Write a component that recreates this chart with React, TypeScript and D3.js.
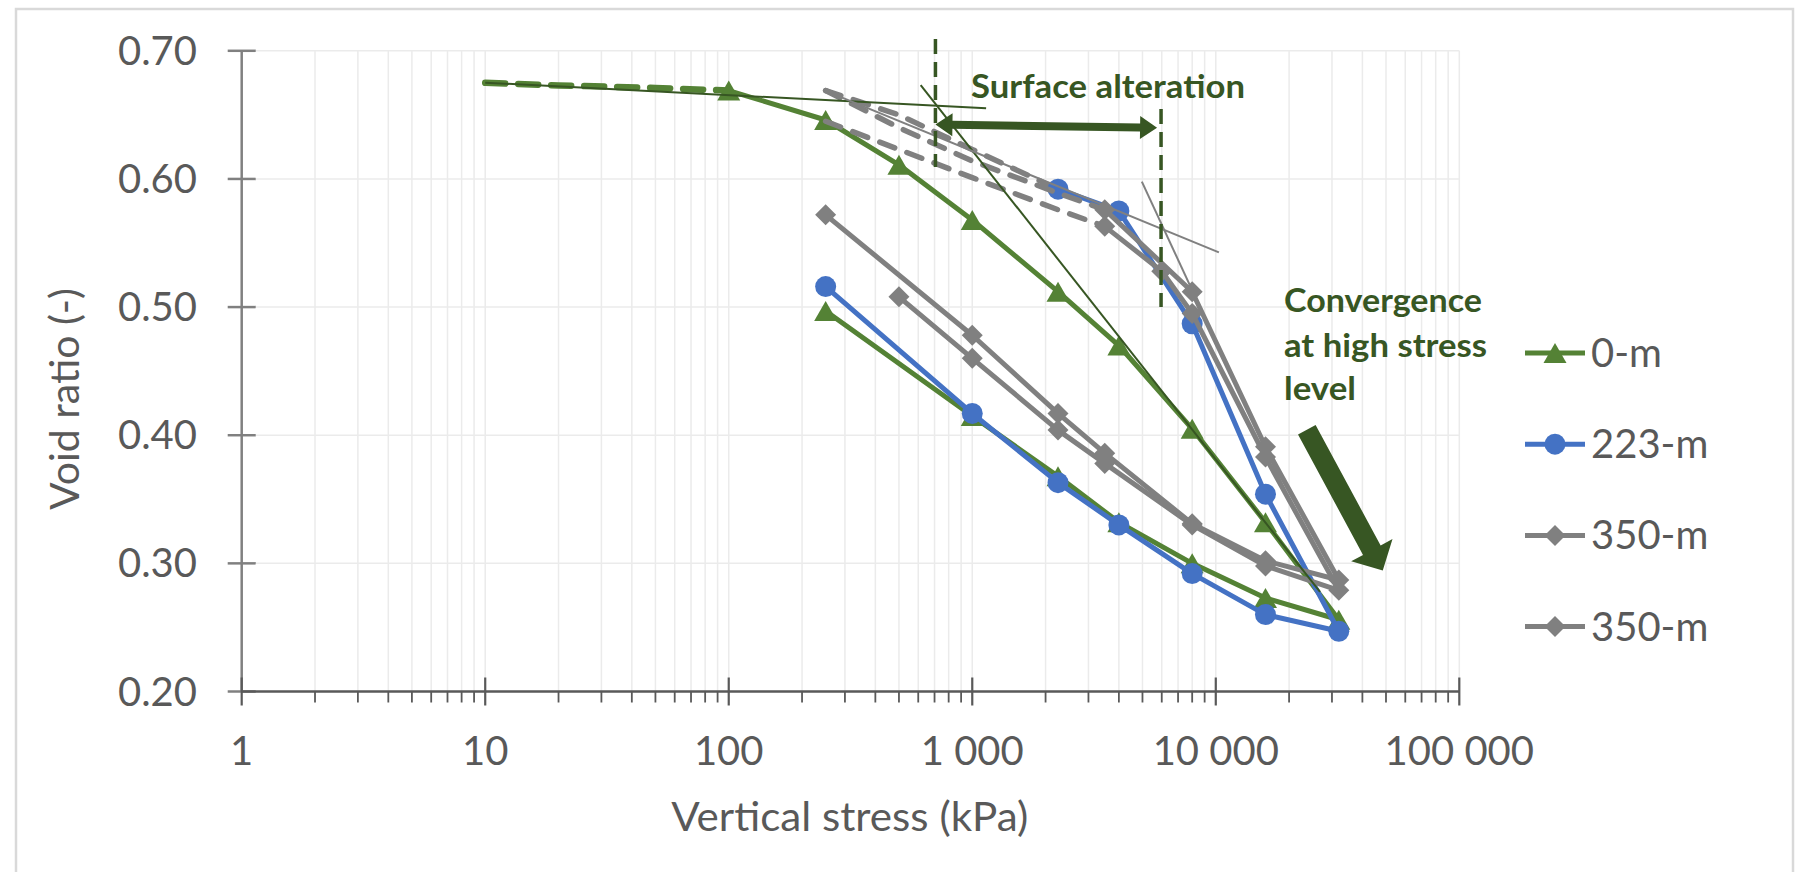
import React from "react";
import * as d3 from "d3";

// ---- Oedometer data: vertical stress (kPa) vs void ratio (-) ----
// 0-m sample
const s0mInitial = [10, 20, 50, 100];
const e0mInitial = [0.675, 0.673, 0.671, 0.669];
const s0m = [100, 250, 500, 1000, 2250, 4000, 8000, 16000, 32000, 16000, 8000, 4000, 2250, 1000, 250];
const e0m = [0.669, 0.646, 0.611, 0.568, 0.512, 0.470, 0.405, 0.332, 0.256, 0.273, 0.300, 0.332, 0.368, 0.415, 0.497];

// 223-m sample
const s223Initial = [250, 500, 1000, 2250];
const e223Initial = [0.669, 0.650, 0.623, 0.592];
const s223 = [2250, 4000, 8000, 16000, 32000, 16000, 8000, 4000, 2250, 1000, 250];
const e223 = [0.592, 0.575, 0.487, 0.354, 0.247, 0.260, 0.292, 0.330, 0.363, 0.417, 0.516];

// 350-m sample, first test
const s350aInitial = [250, 500, 1000, 2250, 3500];
const e350aInitial = [0.669, 0.640, 0.614, 0.589, 0.576];
const s350a = [3500, 8000, 16000, 32000, 16000, 8000, 3500, 2250, 1000, 250];
const e350a = [0.576, 0.512, 0.391, 0.287, 0.302, 0.331, 0.386, 0.417, 0.478, 0.572];

// 350-m sample, second test
const s350bInitial = [250, 500, 1000, 2250, 3500];
const e350bInitial = [0.645, 0.623, 0.601, 0.576, 0.563];
const s350b = [3500, 6000, 8000, 16000, 32000, 16000, 8000, 3500, 2250, 1000, 500];
const e350b = [0.563, 0.528, 0.495, 0.383, 0.279, 0.298, 0.330, 0.378, 0.404, 0.460, 0.508];

// Casagrande-style construction lines [stress, void ratio]
const constructionGreen1 = [[10, 0.6751], [1140, 0.6551]];
const constructionGreen2 = [[614, 0.6733], [26800, 0.2778]];
const constructionGray1 = [[256, 0.6679], [10300, 0.5427]];
const constructionGray2 = [[4970, 0.5979], [21600, 0.3363]];

// Surface alteration band
const alterationLeft = [[706, 0.7093], [706, 0.6094]];
const alterationRight = [[5960, 0.6546], [5960, 0.5]];
const alterationArrow = [[706, 0.6425], [5740, 0.640]];
// Convergence arrow
const convergenceArrow = [[23650, 0.4042], [48500, 0.2945]];

const xTicks = [1, 10, 100, 1000, 10000, 100000];
const xTickLabels = ["1", "10", "100", "1 000", "10 000", "100 000"];
const yTicks = [0.2, 0.3, 0.4, 0.5, 0.6, 0.7];
const legendNames = ["0-m", "223-m", "350-m", "350-m"];

const GREEN = "#548235";
const BLUE = "#4472C4";
const GRAY = "#808080";
const DARK = "#375623";
const TEXT = "#595959";
const FONT = "Lato, 'Open Sans', sans-serif";

const x = d3.scaleLog().domain([1, 100000]).range([241.7, 1459.3]);
const y = d3.scaleLinear().domain([0.2, 0.7]).range([691.5, 50.8]);

type P = [number, number];
const zip = (s: number[], e: number[]): P[] => s.map((v, i) => [v, e[i]] as P);
const line = d3.line<P>().x((d) => x(d[0])).y((d) => y(d[1]));

function triPath(cx: number, cy: number) {
  return `M${cx},${cy - 10}L${cx + 11.5},${cy + 10}L${cx - 11.5},${cy + 10}Z`;
}
function diaPath(cx: number, cy: number) {
  return `M${cx},${cy - 10.5}L${cx + 10.5},${cy}L${cx},${cy + 10.5}L${cx - 10.5},${cy}Z`;
}

function Marker({ kind, cx, cy, color }: { kind: string; cx: number; cy: number; color: string }) {
  if (kind === "circle") return <circle cx={cx} cy={cy} r={10.5} fill={color} />;
  if (kind === "triangle") return <path d={triPath(cx, cy)} fill={color} />;
  return <path d={diaPath(cx, cy)} fill={color} />;
}

function arrowPath(p0: P, p1: P, shaftW: number, headL: number, headW: number, double: boolean) {
  const dx = p1[0] - p0[0];
  const dy = p1[1] - p0[1];
  const len = Math.hypot(dx, dy);
  const ux = dx / len, uy = dy / len;
  const nx = -uy, ny = ux;
  const pt = (a: number, b: number) => `${p0[0] + ux * a + nx * b},${p0[1] + uy * a + ny * b}`;
  const hs = shaftW / 2, hh = headW / 2;
  const pts: string[] = [];
  if (double) {
    pts.push(pt(0, 0), pt(headL, -hh), pt(headL, -hs));
  } else {
    pts.push(pt(0, -hs));
  }
  pts.push(pt(len - headL, -hs), pt(len - headL, -hh), pt(len, 0), pt(len - headL, hh), pt(len - headL, hs));
  if (double) {
    pts.push(pt(headL, hs), pt(headL, hh));
  } else {
    pts.push(pt(0, hs));
  }
  return "M" + pts.join("L") + "Z";
}

const series = [
  { initial: zip(s0mInitial, e0mInitial), initColor: GREEN, initDash: "20 13", initW: 6.5, curve: zip(s0m, e0m), color: GREEN, marker: "triangle" },
  { initial: zip(s223Initial, e223Initial), initColor: GRAY, initDash: "16 13", initW: 5.5, curve: zip(s223, e223), color: BLUE, marker: "circle" },
  { initial: zip(s350aInitial, e350aInitial), initColor: GRAY, initDash: "16 13", initW: 5.5, curve: zip(s350a, e350a), color: GRAY, marker: "diamond" },
  { initial: zip(s350bInitial, e350bInitial), initColor: GRAY, initDash: "16 13", initW: 5.5, curve: zip(s350b, e350b), color: GRAY, marker: "diamond" },
];

export default function App() {
  const minor: number[] = [];
  for (let p = 0; p < 5; p++) for (let k = 2; k <= 9; k++) minor.push(k * Math.pow(10, p));
  const gridX = [...xTicks, ...minor];
  const toPx = (d: number[][]): P[] => d.map((q) => [x(q[0]), y(q[1])] as P);
  const da = toPx(alterationArrow);
  const ca = toPx(convergenceArrow);

  return (
    <svg width={1805} height={872} style={{ position: "absolute", left: 0, top: 0, background: "#fff" }} fontFamily={FONT}>
      <rect x={0} y={0} width={1805} height={872} fill="#fff" />
      <rect x={16} y={9} width={1777} height={880} fill="none" stroke="#d9d9d9" strokeWidth={2.5} />

      {/* gridlines */}
      {gridX.map((v, i) => (
        <line key={"gx" + i} x1={x(v)} x2={x(v)} y1={y(0.7)} y2={y(0.2)} stroke="#ebebeb" strokeWidth={1.5} />
      ))}
      {yTicks.filter((v) => v > 0.2).map((v) => (
        <line key={"gy" + v} x1={x(1)} x2={x(100000)} y1={y(v)} y2={y(v)} stroke="#ebebeb" strokeWidth={1.5} />
      ))}

      {/* axes */}
      <line x1={x(1)} x2={x(1)} y1={y(0.7)} y2={y(0.2)} stroke={GRAY} strokeWidth={2.5} />
      {yTicks.map((v) => (
        <g key={"yt" + v}>
          <line x1={x(1) - 14} x2={x(1) + 14} y1={y(v)} y2={y(v)} stroke={GRAY} strokeWidth={2.5} />
          <text x={197} y={y(v) + 14} textAnchor="end" fontSize={40} fill={TEXT}>
            {v.toFixed(2)}
          </text>
        </g>
      ))}
      <line x1={x(1)} x2={x(100000)} y1={y(0.2)} y2={y(0.2)} stroke={TEXT} strokeWidth={2.5} />
      {minor.map((v, i) => (
        <line key={"mt" + i} x1={x(v)} x2={x(v)} y1={y(0.2)} y2={y(0.2) + 11} stroke={TEXT} strokeWidth={1.8} />
      ))}
      {xTicks.map((v, i) => (
        <g key={"xt" + v}>
          <line x1={x(v)} x2={x(v)} y1={y(0.2) - 14} y2={y(0.2) + 14} stroke={TEXT} strokeWidth={2.2} />
          <text x={x(v)} y={765} textAnchor="middle" fontSize={40} fill={TEXT}>
            {xTickLabels[i]}
          </text>
        </g>
      ))}
      <text x={849.7} y={831} textAnchor="middle" fontSize={40} fill={TEXT} textLength={357} lengthAdjust="spacingAndGlyphs">
        Vertical stress (kPa)
      </text>
      <text transform="translate(79,399) rotate(-90)" textAnchor="middle" fontSize={40} fill={TEXT} textLength={222} lengthAdjust="spacingAndGlyphs">
        Void ratio (-)
      </text>

      {/* series */}
      {series.map((s, i) => (
        <g key={"s" + i}>
          <path d={line(s.initial) || ""} fill="none" stroke={s.initColor} strokeWidth={s.initW} strokeDasharray={s.initDash} strokeLinejoin="round" strokeLinecap="round" />
          <path d={line(s.curve) || ""} fill="none" stroke={s.color} strokeWidth={5} strokeLinejoin="round" />
          {s.curve.map((d, j) => (
            <Marker key={j} kind={s.marker} cx={x(d[0])} cy={y(d[1])} color={s.color} />
          ))}
        </g>
      ))}

      {/* construction lines */}
      <path d={line(constructionGreen1 as P[]) || ""} stroke={DARK} strokeWidth={2} fill="none" />
      <path d={line(constructionGreen2 as P[]) || ""} stroke={DARK} strokeWidth={2} fill="none" />
      <path d={line(constructionGray1 as P[]) || ""} stroke={GRAY} strokeWidth={2} fill="none" />
      <path d={line(constructionGray2 as P[]) || ""} stroke={GRAY} strokeWidth={2} fill="none" />

      {/* surface alteration annotation */}
      <path d={line(alterationLeft as P[]) || ""} stroke={DARK} strokeWidth={3.5} strokeDasharray="15 8" fill="none" />
      <path d={line(alterationRight as P[]) || ""} stroke={DARK} strokeWidth={3.5} strokeDasharray="15 8" fill="none" />
      <path d={arrowPath(da[0], da[1], 8, 17, 23, true)} fill={DARK} />
      <text x={971} y={98} fontSize={33} fontWeight="bold" fill={DARK} textLength={274} lengthAdjust="spacingAndGlyphs">
        Surface alteration
      </text>

      {/* convergence annotation */}
      <text x={1284} y={311.7} fontSize={33} fontWeight="bold" fill={DARK} textLength={198} lengthAdjust="spacingAndGlyphs">
        Convergence
      </text>
      <text x={1284} y={356.5} fontSize={33} fontWeight="bold" fill={DARK} textLength={203} lengthAdjust="spacingAndGlyphs">
        at high stress
      </text>
      <text x={1284} y={400} fontSize={33} fontWeight="bold" fill={DARK} textLength={72} lengthAdjust="spacingAndGlyphs">
        level
      </text>
      <path d={arrowPath(ca[0], ca[1], 20, 23, 47, false)} fill={DARK} />

      {/* legend */}
      {legendNames.map((name, i) => {
        const cy = 353 + i * 91.2;
        const s = series[i];
        return (
          <g key={"lg" + i}>
            <line x1={1525} x2={1585} y1={cy} y2={cy} stroke={s.color} strokeWidth={5} />
            <Marker kind={s.marker} cx={1555} cy={cy} color={s.color} />
            <text x={1591} y={cy + 14} fontSize={40} fill={TEXT}>
              {name}
            </text>
          </g>
        );
      })}
    </svg>
  );
}
